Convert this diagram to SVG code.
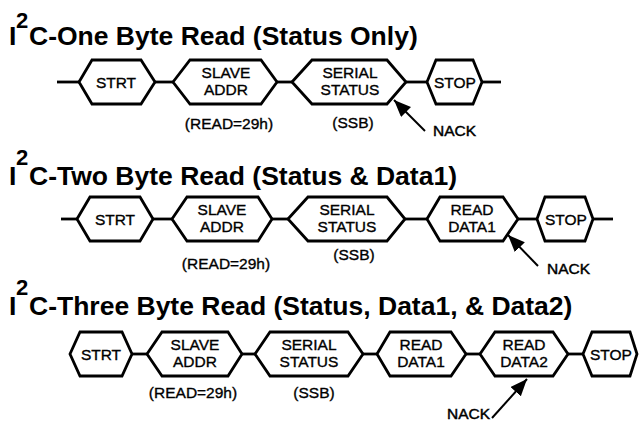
<svg xmlns="http://www.w3.org/2000/svg" width="639" height="423" viewBox="0 0 639 423">
<defs>
<style>
.hex{fill:#fff;stroke:#000;stroke-width:2.8;stroke-linejoin:miter}
.ln{stroke:#000;stroke-width:2.8;fill:none}
.arr{stroke:#000;stroke-width:2;fill:none}
.t{font-family:"Liberation Sans",Arial,sans-serif;font-size:15.5px;fill:#000;stroke:#000;stroke-width:0.35;text-anchor:middle}
.n{font-family:"Liberation Sans",Arial,sans-serif;font-size:15.5px;fill:#000;stroke:#000;stroke-width:0.45}
.ttl{font-family:"Liberation Sans",Arial,sans-serif;font-size:26.5px;font-weight:bold;fill:#000}
.sup{font-family:"Liberation Sans",Arial,sans-serif;font-size:22px;font-weight:bold;fill:#000}
</style>
<marker id="ah" markerUnits="userSpaceOnUse" markerWidth="20" markerHeight="16" refX="17" refY="7" orient="auto">
<path d="M0,0 L17,7 L0,14 Z" fill="#000"/>
</marker>
</defs>
<rect width="639" height="423" fill="#fff"/>

<g id="titles">
<text class="ttl" x="9" y="45">I</text><text class="sup" x="16" y="28">2</text><text class="ttl" x="29" y="45">C-One Byte Read (Status Only)</text>
<text class="ttl" x="9" y="185">I</text><text class="sup" x="16" y="165">2</text><text class="ttl" x="29" y="185">C-Two Byte Read (Status &amp; Data1)</text>
<text class="ttl" x="9" y="315">I</text><text class="sup" x="16" y="295">2</text><text class="ttl" x="29" y="315">C-Three Byte Read (Status, Data1, &amp; Data2)</text>
</g>

<g id="connectors">
<line class="ln" x1="57" y1="82" x2="79" y2="82"/>
<line class="ln" x1="155" y1="82" x2="173" y2="82"/>
<line class="ln" x1="277" y1="82" x2="292" y2="82"/>
<line class="ln" x1="406" y1="82" x2="427" y2="82"/>
<line class="ln" x1="482" y1="82" x2="501" y2="82"/>

<line class="ln" x1="61" y1="219" x2="77" y2="219"/>
<line class="ln" x1="153" y1="219" x2="172" y2="219"/>
<line class="ln" x1="272" y1="219" x2="288" y2="219"/>
<line class="ln" x1="405" y1="219" x2="427" y2="219"/>
<line class="ln" x1="518" y1="219" x2="537" y2="219"/>
<line class="ln" x1="593" y1="219" x2="613" y2="219"/>

<line class="ln" x1="132" y1="354" x2="147" y2="354"/>
<line class="ln" x1="242" y1="354" x2="255" y2="354"/>
<line class="ln" x1="363" y1="354" x2="377" y2="354"/>
<line class="ln" x1="466" y1="354" x2="480" y2="354"/>
<line class="ln" x1="568" y1="354" x2="583" y2="354"/>

<line class="arr" x1="425" y1="131" x2="394" y2="100" marker-end="url(#ah)"/>
<line class="arr" x1="538" y1="266" x2="508" y2="235" marker-end="url(#ah)"/>
<line class="arr" x1="492" y1="418" x2="527" y2="379" marker-end="url(#ah)"/>
</g>

<!-- Row 1 -->
<g id="r1-strt"><polygon class="hex" points="79,82 92,60 141,60 155,82 141,104 92,104"/><text class="t" x="116" y="88">STRT</text></g>
<g id="r1-slave"><polygon class="hex" points="173,82 190,60 261,60 277,82 261,104 190,104"/><text class="t" x="226" y="78">SLAVE</text><text class="t" x="226" y="95">ADDR</text></g>
<g id="r1-serial"><polygon class="hex" points="292,82 312,60 387,60 406,82 387,104 312,104"/><text class="t" x="350" y="78">SERIAL</text><text class="t" x="350" y="95">STATUS</text></g>
<g id="r1-stop"><polygon class="hex" points="427,82 436,60 473,60 482,82 473,104 436,104"/><text class="t" x="455" y="88">STOP</text></g>
<g id="r1-labels"><text class="t" x="229" y="129">(READ=29h)</text><text class="t" x="353" y="128">(SSB)</text><text class="n" x="433" y="136">NACK</text></g>

<!-- Row 2 -->
<g id="r2-strt"><polygon class="hex" points="77,219 90,197 140,197 153,219 140,241 90,241"/><text class="t" x="115" y="225">STRT</text></g>
<g id="r2-slave"><polygon class="hex" points="172,219 187,197 258,197 272,219 258,241 187,241"/><text class="t" x="222" y="215">SLAVE</text><text class="t" x="222" y="232">ADDR</text></g>
<g id="r2-serial"><polygon class="hex" points="288,219 308,197 387,197 405,219 387,241 308,241"/><text class="t" x="347" y="215">SERIAL</text><text class="t" x="347" y="232">STATUS</text></g>
<g id="r2-data1"><polygon class="hex" points="427,219 440,197 503,197 518,219 503,241 440,241"/><text class="t" x="472" y="215">READ</text><text class="t" x="472" y="232">DATA1</text></g>
<g id="r2-stop"><polygon class="hex" points="537,219 545,197 585,197 593,219 585,241 545,241"/><text class="t" x="566" y="225">STOP</text></g>
<g id="r2-labels"><text class="t" x="226" y="269">(READ=29h)</text><text class="t" x="354" y="260">(SSB)</text><text class="n" x="547" y="274">NACK</text></g>

<!-- Row 3 -->
<g id="r3-strt"><polygon class="hex" points="70,354 80,332 122,332 132,354 122,376 80,376"/><text class="t" x="101" y="360">STRT</text></g>
<g id="r3-slave"><polygon class="hex" points="147,354 162,332 228,332 242,354 228,376 162,376"/><text class="t" x="195" y="350">SLAVE</text><text class="t" x="195" y="367">ADDR</text></g>
<g id="r3-serial"><polygon class="hex" points="255,354 270,332 348,332 363,354 348,376 270,376"/><text class="t" x="309" y="350">SERIAL</text><text class="t" x="309" y="367">STATUS</text></g>
<g id="r3-data1"><polygon class="hex" points="377,354 390,332 451,332 466,354 451,376 390,376"/><text class="t" x="421" y="350">READ</text><text class="t" x="421" y="367">DATA1</text></g>
<g id="r3-data2"><polygon class="hex" points="480,354 495,332 553,332 568,354 553,376 495,376"/><text class="t" x="524" y="350">READ</text><text class="t" x="524" y="367">DATA2</text></g>
<g id="r3-stop"><polygon class="hex" points="583,354 592,332 630,332 637,354 630,376 592,376"/><text class="t" x="611" y="360">STOP</text></g>
<g id="r3-labels"><text class="t" x="193" y="398">(READ=29h)</text><text class="t" x="314" y="398">(SSB)</text><text class="n" x="447" y="419">NACK</text></g>
</svg>
